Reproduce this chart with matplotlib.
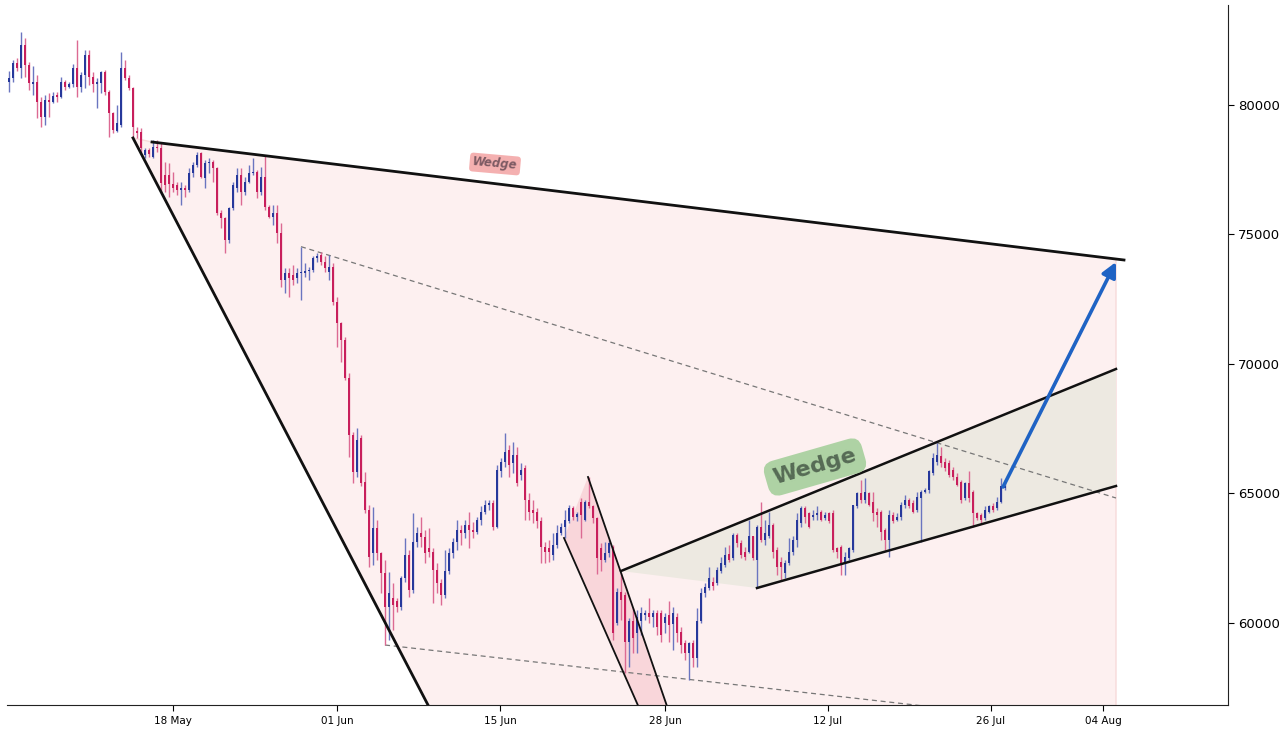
import matplotlib
matplotlib.use("Agg")
import matplotlib.pyplot as plt
import numpy as np
from matplotlib.patches import Polygon

# ---------------- data (8h candles, index-based x axis) ----------------
opens = [
    80870, 81030, 81610, 81420, 82320, 81540, 80800, 80900, 80130, 79550,
    80190, 80130, 80360, 80320, 80900, 80710, 80800, 81420, 80710, 81160,
    81930, 81090, 80800, 80840, 81290, 80510, 79680, 79000, 79230, 81440,
    81030, 80640, 79000, 78950, 78070, 78260, 78000, 78390, 78330, 77300,
    77300, 76940, 76910, 76720, 76810, 76720, 77360, 77680, 78130, 77170,
    77750, 77810, 77550, 75820, 75620, 74790, 76010, 76800, 77300, 76650,
    77040, 77360, 77430, 76650, 77230, 76080, 75690, 75820, 75050, 73240,
    73500, 73440, 73310, 73500, 73530, 73590, 73620, 74080, 74210, 73950,
    73570, 73760, 72410, 71570, 70930, 69450, 67260, 65840, 67130, 65460,
    64360, 62690, 63660, 62690, 61920, 60630, 60950, 60830, 60630, 61730,
    62630, 61280, 63140, 63460, 63330, 62900, 62750, 62050, 61530, 61080,
    62000, 62690, 63140, 63590, 63460, 63790, 63600, 63500, 63980, 64300,
    64560, 64620, 63720, 65850, 66230, 66660, 66170, 66490, 65720, 65970,
    64750, 64370, 64300, 63920, 62950, 62890, 62630, 63020, 63470, 63720,
    63920, 64430, 64110, 64690, 63980, 64690, 64500, 64050, 62890, 62440,
    62690, 62950, 59990, 61210, 61080, 59280, 60060, 59600, 60060, 60310,
    60380, 60250, 60380, 60380, 59990, 60310, 59950, 60250, 59670, 59220,
    58830, 59220, 58640, 60060, 61150, 61340, 61600, 61540, 61990, 62240,
    62660, 62500, 63400, 63080, 62760, 62760, 63340, 62440, 63720, 63210,
    63340, 63790, 62820, 62370, 61920, 62310, 62760, 63210, 63850, 64430,
    64240, 64110, 64170, 64300, 64040, 64240, 64240, 62890, 62950, 62310,
    62500, 62820, 64500, 65010, 64750, 65010, 64690, 64300, 64300, 63590,
    63210, 64170, 63980, 64110, 64560, 64750, 64620, 64370, 64820, 65070,
    65140, 65780, 66230, 66430, 66230, 66170, 65910, 65650, 65460, 64820,
    65400, 65070, 64240, 64170, 64040, 64300, 64500, 64430, 64690, 65200,
]
highs = [
    81310, 81740, 81800, 82830, 82570, 81670, 81500, 81160, 80320, 80390,
    80450, 80510, 80510, 81090, 80960, 80900, 81570, 82510, 81290, 82120,
    82120, 81290, 81030, 81300, 81350, 80580, 79740, 80000, 82060, 81740,
    81160, 80710, 79160, 79120, 78330, 78330, 78650, 78650, 78520, 77810,
    77750, 77420, 77040, 77040, 76910, 77550, 77810, 78200, 78200, 77880,
    77940, 77880, 77620, 75950, 75690, 76070, 77040, 77550, 77550, 77230,
    77680, 77940, 77490, 77620, 78070, 76140, 76140, 76140, 75430, 73690,
    73690, 73820, 73690, 74530, 73880, 73750, 74150, 74290, 74340, 74150,
    74210, 73890, 72600, 71640, 71060, 69640, 67390, 67520, 67260, 65840,
    64560, 64490, 63980, 62760, 62430, 61980, 61530, 60960, 61800, 63270,
    62820, 64240, 63720, 64110, 63600, 63650, 62900, 62300, 61700, 62820,
    62900, 63300, 63980, 63800, 63980, 64300, 63900, 64100, 64500, 64750,
    64750, 64750, 66100, 66360, 67330, 66880, 67000, 66810, 66170, 66100,
    65010, 64750, 64430, 64110, 63140, 63210, 63470, 63790, 63850, 64370,
    64560, 64500, 64300, 64820, 64750, 65650, 64560, 64110, 63080, 63140,
    63210, 63020, 61340, 61920, 61210, 60180, 60570, 60510, 60630, 60510,
    60960, 60510, 60510, 60510, 60380, 60830, 60630, 60380, 59860, 59350,
    59280, 59350, 60570, 61340, 61530, 62180, 61790, 62180, 62560, 62950,
    63020, 63470, 63470, 63210, 62950, 63980, 63340, 63790, 64690, 63980,
    64300, 63850, 62950, 62560, 62440, 63270, 63340, 64240, 64500, 64500,
    64300, 64370, 64500, 64370, 64300, 64300, 64370, 62950, 63020, 62760,
    62950, 64560, 65070, 65520, 65590, 65070, 65070, 64430, 64370, 63660,
    64370, 64300, 64240, 64690, 64950, 64820, 64750, 65070, 65140, 65200,
    65910, 66550, 66940, 66810, 66360, 66300, 66040, 65780, 65520, 65460,
    65850, 65140, 64300, 64240, 64500, 64560, 64620, 64880, 65590, 65520,
]
lows = [
    80510, 80900, 81300, 81030, 81090, 80580, 80390, 79480, 79160, 79230,
    79550, 80060, 80130, 80260, 80580, 80640, 80710, 80320, 80510, 80640,
    80770, 80510, 79870, 80450, 80390, 78780, 78900, 78970, 79160, 80960,
    80580, 78710, 78710, 78130, 77940, 77990, 77940, 78200, 76650, 76650,
    76460, 76650, 76520, 76140, 76460, 76650, 77230, 77620, 77170, 76780,
    77360, 77040, 75750, 75240, 74270, 74660, 75950, 76650, 76140, 76520,
    76970, 77300, 76400, 76530, 75950, 75620, 75370, 74660, 72990, 72730,
    72600, 73050, 73110, 72470, 73370, 73240, 73570, 73950, 73820, 73570,
    73240, 72280, 70670, 70090, 69380, 66420, 65390, 65650, 65270, 64240,
    62180, 62240, 62430, 61150, 59150, 59350, 59730, 60440, 60500, 61600,
    61000, 61150, 62950, 62950, 62300, 62560, 60760, 61150, 60700, 60950,
    61900, 62500, 62800, 63000, 63300, 62900, 63300, 63430, 63800, 64200,
    64350, 63600, 63650, 65650, 66040, 65650, 65780, 65300, 65520, 63980,
    63980, 63850, 63660, 62310, 62310, 62370, 62440, 62890, 63400, 63270,
    63850, 63980, 63920, 63270, 63920, 64430, 63850, 61900, 61990, 62370,
    62560, 59350, 59930, 60120, 58060, 58320, 58830, 58830, 59540, 60120,
    59990, 59860, 59540, 59280, 59600, 59280, 58960, 59280, 58830, 58580,
    57800, 58320, 58320, 59990, 61000, 61280, 61280, 61470, 61920, 62180,
    62370, 62440, 62950, 62500, 62440, 62690, 62440, 61340, 63140, 63020,
    63270, 62500, 61860, 61660, 61730, 62240, 62630, 62950, 63720, 63850,
    63660, 63980, 63980, 63920, 63980, 63850, 62760, 62500, 61860, 61860,
    62440, 62760, 64430, 64620, 64620, 64500, 63920, 63720, 63210, 62820,
    62560, 63850, 63920, 63980, 64430, 64430, 64240, 64300, 63140, 65010,
    65010, 65720, 66100, 66040, 65850, 65650, 65520, 65270, 64620, 64750,
    64690, 63720, 63980, 63850, 63980, 64240, 64300, 64370, 64620, 65140,
]
closes = [
    81030, 81610, 81420, 82320, 81540, 80840, 80900, 80130, 79550, 80190,
    80130, 80360, 80320, 80900, 80710, 80800, 81420, 80710, 81160, 81930,
    81090, 80800, 80900, 81290, 80510, 79680, 79030, 79290, 81440, 81030,
    80640, 79160, 78900, 78330, 78260, 78100, 78390, 78330, 76980, 76910,
    76940, 76780, 76720, 76810, 76720, 77360, 77680, 78070, 77230, 77750,
    77810, 77550, 75820, 75620, 74790, 76010, 76910, 77300, 76650, 77040,
    77360, 77430, 76650, 77230, 76080, 75690, 75820, 75050, 73240, 73500,
    73310, 73240, 73500, 73530, 73590, 73620, 74080, 74170, 73950, 73690,
    73760, 72410, 71570, 70930, 69450, 67260, 65840, 67070, 65390, 64360,
    62560, 63660, 62690, 61920, 60630, 61150, 60700, 60630, 61730, 62630,
    61280, 63140, 63460, 63330, 62690, 62750, 62050, 61530, 61080, 62000,
    62690, 63140, 63590, 63460, 63790, 63600, 63500, 63980, 64300, 64560,
    64620, 63720, 65910, 66230, 66620, 66100, 66490, 65400, 65910, 64750,
    64300, 64240, 63920, 62950, 62760, 62760, 63020, 63470, 63720, 63980,
    64430, 64110, 64210, 64170, 64690, 64500, 64050, 62500, 62440, 62690,
    63080, 59600, 61210, 60890, 59280, 60060, 59410, 60250, 60380, 60380,
    60250, 60380, 59860, 59540, 60250, 59930, 60380, 59600, 59150, 58830,
    59220, 58640, 60060, 61150, 61400, 61730, 61410, 62050, 62310, 62630,
    62440, 63400, 63080, 62630, 62560, 63340, 62500, 63720, 63210, 63470,
    63790, 62760, 62180, 62180, 62310, 62760, 63210, 63980, 64430, 64110,
    63720, 64170, 64240, 63980, 64170, 63920, 62820, 62760, 62240, 62560,
    62890, 64560, 65010, 64750, 65070, 64560, 64240, 64170, 63530, 63210,
    64170, 63920, 64110, 64560, 64750, 64500, 64300, 64880, 65070, 65140,
    65850, 66360, 66490, 66170, 65970, 65720, 65650, 65330, 64750, 65400,
    64820, 64240, 64040, 63980, 64370, 64500, 64370, 64690, 65270, 65270,
]
tick_labels = ["18 May", "01 Jun", "15 Jun", "28 Jun", "12 Jul", "26 Jul", "04 Aug"]
tick_positions = [41, 82, 122.75, 164, 204.75, 245.5, 273.5]
price_ticks = [60000, 65000, 70000, 75000, 80000]

# pattern drawing anchors (candle index, price)
big_wedge_left = [(31, 78726), (104.75, 56834)]
big_wedge_top = [(35.75, 78571), (278.75, 74015)]
proj_x = 276.75
dashed_upper = [(73, 74530), (proj_x, 64826)]
dashed_lower = [(94, 59150), (226.5, 56834)]
chan_a = [(144.75, 65637), (164.4, 56834)]
chan_b = [(138.75, 63282), (157.2, 56834)]
wedge_upper = [(153, 62008), (proj_x, 69807)]
wedge_lower = [(187, 61351), (proj_x, 65289)]
arrow_pts = [(248.5, 65251), (proj_x, 73938)]

UP = "#26389b"
DOWN = "#c81f5c"
UP_W = "#6a75c0"
DOWN_W = "#dc6a93"

fig = plt.figure(figsize=(12.8, 7.31), dpi=100)
ax = fig.add_axes([7 / 1280, 26 / 731, (1228 - 7) / 1280, (705 - 5) / 731])
ax.set_xlim(-0.5, 304.75)
ax.set_ylim(56834, 83860)


def extend(p0, p1, ynew):
    (x0, y0), (x1, y1) = p0, p1
    s = (y1 - y0) / (x1 - x0)
    return (x0 + (ynew - y0) / s, ynew)


# big pink wedge fill
bl_far = extend(*big_wedge_left, 50000)
top_end = (proj_x, big_wedge_top[0][1] + (big_wedge_top[1][1] - big_wedge_top[0][1])
           * (proj_x - big_wedge_top[0][0]) / (big_wedge_top[1][0] - big_wedge_top[0][0]))
ax.add_patch(Polygon([big_wedge_left[0], big_wedge_top[0], top_end, (proj_x, 50000), bl_far],
                     closed=True, facecolor="#fdf0f0", edgecolor="#f7dada", lw=1.0, zorder=0))

# small descending channel fill
ca_far = extend(*chan_a, 50000)
cb_far = extend(*chan_b, 50000)
ax.add_patch(Polygon([chan_a[0], ca_far, cb_far, chan_b[0]], closed=True,
                     facecolor="#f9d6da", edgecolor="none", zorder=1))

# rising wedge fill
ax.add_patch(Polygon([wedge_upper[0], wedge_upper[1], wedge_lower[1], wedge_lower[0]],
                     closed=True, facecolor="#ede9e1", edgecolor="none", zorder=1))

# dashed guide lines
dl_far = extend(*dashed_lower, 50000)
ax.plot([dashed_upper[0][0], dashed_upper[1][0]], [dashed_upper[0][1], dashed_upper[1][1]],
        ls=(0, (4, 3)), color="#777777", lw=0.9, zorder=2)
ax.plot([dashed_lower[0][0], dl_far[0]], [dashed_lower[0][1], dl_far[1]],
        ls=(0, (4, 3)), color="#777777", lw=0.9, zorder=2)

# candles
x = np.arange(len(closes))
o = np.array(opens, float)
h = np.array(highs, float)
l = np.array(lows, float)
c = np.array(closes, float)
up = c >= o
dn = ~up
ax.vlines(x[up], l[up], h[up], color=UP_W, lw=1.0, zorder=3)
ax.vlines(x[dn], l[dn], h[dn], color=DOWN_W, lw=1.0, zorder=3)
body_lo = np.minimum(o, c)
body_h = np.maximum(np.abs(c - o), 50)
ax.bar(x[up], body_h[up], bottom=body_lo[up], width=0.74, color=UP, zorder=4, linewidth=0)
ax.bar(x[dn], body_h[dn], bottom=body_lo[dn], width=0.74, color=DOWN, zorder=4, linewidth=0)

# pattern lines
ax.plot([big_wedge_left[0][0], bl_far[0]], [big_wedge_left[0][1], bl_far[1]], color="#111111", lw=2.0, zorder=5)
ax.plot([big_wedge_top[0][0], big_wedge_top[1][0]], [big_wedge_top[0][1], big_wedge_top[1][1]],
        color="#111111", lw=2.0, zorder=5)
ax.plot([chan_a[0][0], ca_far[0]], [chan_a[0][1], ca_far[1]], color="#111111", lw=1.3, zorder=5)
ax.plot([chan_b[0][0], cb_far[0]], [chan_b[0][1], cb_far[1]], color="#111111", lw=1.3, zorder=5)
for seg in (wedge_upper, wedge_lower):
    ax.plot([seg[0][0], seg[1][0]], [seg[0][1], seg[1][1]], color="#111111", lw=1.8, zorder=5)

# projection arrow
ax.annotate("", xy=arrow_pts[1], xytext=arrow_pts[0],
            arrowprops=dict(arrowstyle="-|>", color="#1f63c4", lw=2.6, mutation_scale=22,
                            shrinkA=0, shrinkB=0), zorder=6)

# labels
ax.text(121.5, 77722, "Wedge", rotation=-5, ha="center", va="center", fontsize=8.5,
        fontstyle="italic", fontweight="bold", color="#7d5a63", zorder=7,
        bbox=dict(boxstyle="round,pad=0.25,rounding_size=0.3", fc="#f3a3a3", ec="none", alpha=0.85))
ax.text(201.5, 66023, "Wedge", rotation=16, ha="center", va="center", fontsize=16,
        fontweight="bold", color="#566b55", zorder=7,
        bbox=dict(boxstyle="round,pad=0.35,rounding_size=0.5", fc="#a6cf9c", ec="none", alpha=0.9))

# axes styling
ax.spines["left"].set_visible(False)
ax.spines["top"].set_visible(False)
ax.spines["right"].set_color("#222222")
ax.spines["bottom"].set_color("#222222")
ax.yaxis.tick_right()
ax.set_yticks(price_ticks)
ax.set_yticklabels([str(v) for v in price_ticks], fontsize=9.5)
ax.set_xticks(tick_positions)
ax.set_xticklabels(tick_labels, fontsize=7.5)
ax.tick_params(axis="x", length=4, pad=4)
ax.tick_params(axis="y", length=4, pad=3)

fig.savefig("out.png", dpi=100)
